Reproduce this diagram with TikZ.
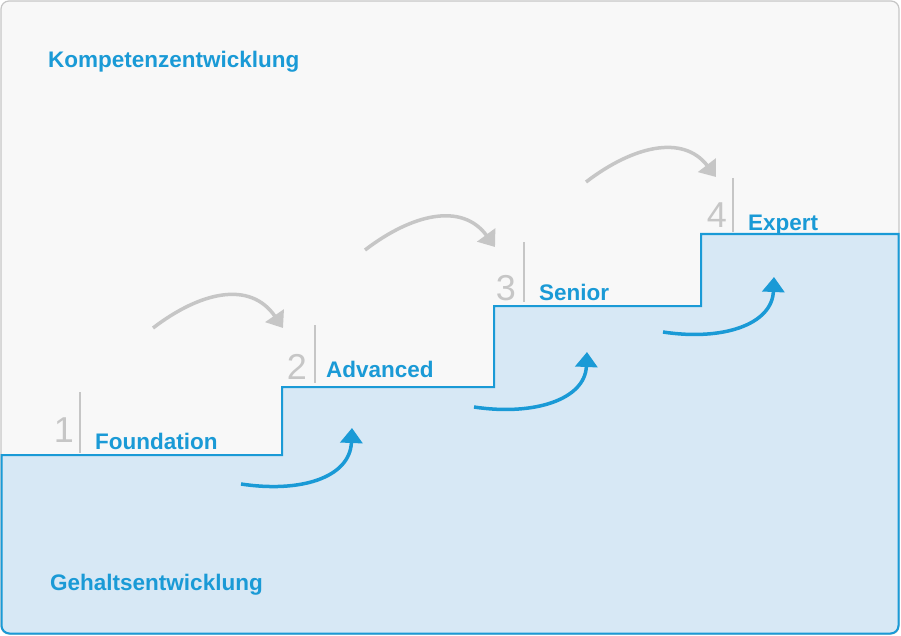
\documentclass[tikz,border=0pt]{standalone}
\usepackage{fontspec}
\setmainfont{Liberation Sans}
\usetikzlibrary{arrows.meta}
\definecolor{bl}{HTML}{1A9AD6}
\definecolor{lb}{HTML}{D7E8F5}
\definecolor{gr}{HTML}{C6C6C6}
\definecolor{bg}{HTML}{F8F8F8}
\begin{document}
\begin{tikzpicture}[x=1pt,y=-1pt,
  lab/.style={anchor=base west,inner sep=0,text=bl,font=\fontsize{22.5}{26}\selectfont\bfseries},
  num/.style={anchor=base east,inner sep=0,text=gr,font=\fontsize{36}{40}\selectfont},
  bar/.style={gr,line width=1.5},
  garr/.style={gr,line width=3.5,-{Triangle[length=15,width=22]}},
  barr/.style={bl,line width=3.5,-{Triangle[length=15,width=22]}}]
\useasboundingbox (0,0) rectangle (901,636);
\draw[gr,fill=bg,line width=1.2,rounded corners=8] (1,1) rectangle (899,634);
\draw[bl,fill=lb,line width=2] (1.5,455) -- (282,455) -- (282,387) -- (494,387) -- (494,306) -- (701,306) -- (701,234) -- (898.5,234)
  [rounded corners=8] -- (898.5,633.5) -- (1.5,633.5) [sharp corners] -- cycle;
\node[lab] (t1) at (48,68) {Kompetenzentwicklung};
\node[lab] (t2) at (50,590) {Gehaltsentwicklung};
\node[num] (n1) at (74,442) {1};
\draw[bar] (80,392) -- (80,453);
\node[lab] (l1) at (95,449) {Foundation};
\node[num] (n2) at (307,379) {2};
\draw[bar] (315,325) -- (315,383);
\node[lab] (l2) at (326,377) {Advanced};
\node[num] (n3) at (516,300) {3};
\draw[bar] (524,242) -- (524,302);
\node[lab] (l3) at (539,300) {Senior};
\node[num] (n4) at (727,227) {4};
\draw[bar] (733,178) -- (733,232);
\node[lab] (l4) at (748,230) {Expert};
\coordinate (g1a) at (153,328); \coordinate (g1b) at (283,328);
\coordinate (g2a) at (365,250); \coordinate (g2b) at (495,247);
\coordinate (g3a) at (586,182); \coordinate (g3b) at (716,177);
\draw[garr] (g1a) .. controls (200,292) and (250,280) .. (g1b);
\draw[garr] (g2a) .. controls (412,214) and (462,202) .. (g2b);
\draw[garr] (g3a) .. controls (633,146) and (683,134) .. (g3b);
\coordinate (b1a) at (241,484); \coordinate (b1b) at (352,428);
\coordinate (b2a) at (474,407); \coordinate (b2b) at (587,352);
\coordinate (b3a) at (663,332); \coordinate (b3b) at (774,277);
\draw[barr] (b1a) .. controls (300,493) and (350,478) .. (b1b);
\draw[barr] (b2a) .. controls (533,416) and (585,400) .. (b2b);
\draw[barr] (b3a) .. controls (722,341) and (772,325) .. (b3b);
\end{tikzpicture}
\end{document}
